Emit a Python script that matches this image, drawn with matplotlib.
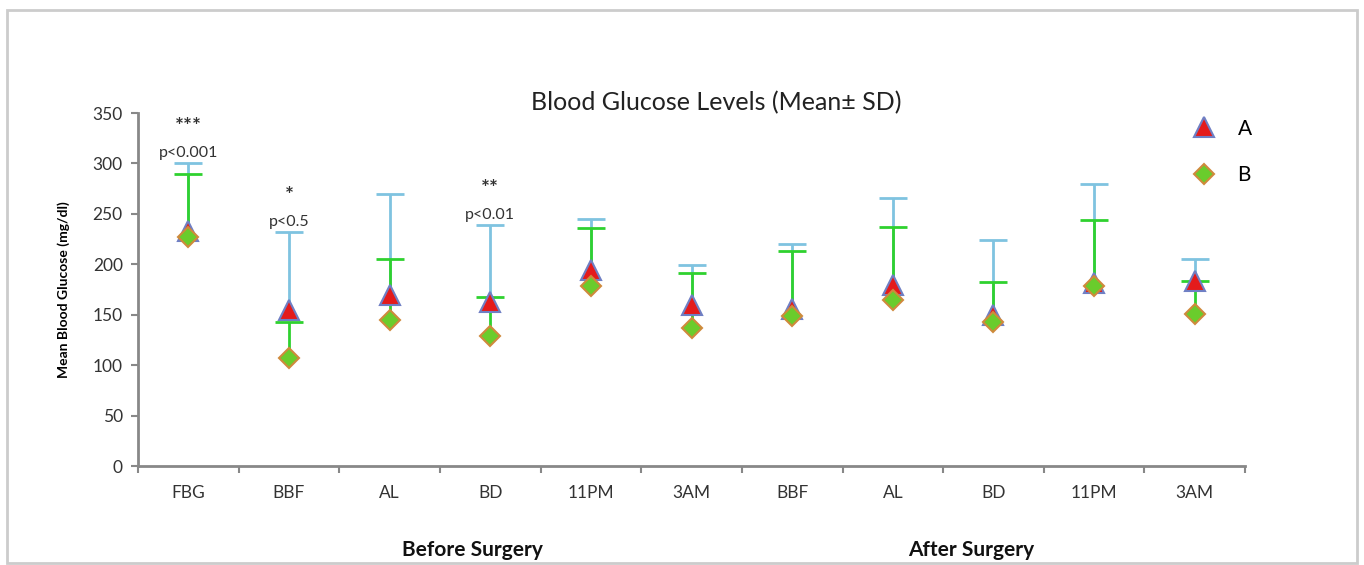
import numpy as np
import matplotlib
matplotlib.use("Agg")
import matplotlib.pyplot as plt
from matplotlib.patches import Rectangle

# valores (mg/dl)
categorias = ["FBG", "BBF", "AL", "BD", "11PM", "3AM", "BBF", "AL", "BD", "11PM", "3AM"]
media_a = [233, 155, 170, 163, 194, 160, 156, 179, 150, 181, 183]
sd_a = [67, 77, 100, 76, 51, 39, 64, 87, 74, 99, 22]
media_b = [227, 107, 145, 129, 178, 137, 149, 165, 143, 178, 151]
sd_b = [63, 36, 60, 39, 58, 54, 64, 72, 39, 66, 32]

anotaciones = [(0, "***", "p<0.001"), (1, "*", "p<0.5"), (3, "**", "p<0.01")]
grupos = ["Before Surgery", "After Surgery"]

plt.rcParams["font.family"] = ["Lato", "DejaVu Sans"]

fig = plt.figure(figsize=(13.64, 5.65), dpi=100)
fig.patch.set_facecolor("white")
ax = fig.add_axes([0.1012, 0.1752, 0.8116, 0.6248])

x = np.arange(len(categorias))
tope_a = np.array(media_a) + np.array(sd_a)
tope_b = np.array(media_b) + np.array(sd_b)

# barras de error solo hacia arriba (media -> media + SD)
ax.vlines(x, media_a, tope_a, colors="#7fc3e0", lw=2, zorder=2)
ax.plot(x, tope_a, ls="none", marker="_", ms=20, mew=2, color="#7fc3e0", zorder=2)
ax.vlines(x, media_b, tope_b, colors="#2fd12f", lw=2, zorder=3)
ax.plot(x, tope_b, ls="none", marker="_", ms=20, mew=2, color="#2fd12f", zorder=3)

ax.plot(x, media_a, ls="none", marker="^", ms=14, mfc="#e41b1b",
        mec="#6f7fc4", mew=1.5, label="A", zorder=4)
ax.plot(x, media_b, ls="none", marker="D", ms=10, mfc="#6acc2c",
        mec="#cf8a3c", mew=1.5, label="B", zorder=5)

ax.set_xlim(-0.5, len(x) - 0.5)
ax.set_ylim(0, 350)
ax.set_yticks(range(0, 351, 50))
ax.set_xticks(x)
ax.set_xticklabels(categorias)
ax.set_xticks(np.arange(-0.5, len(x), 1), minor=True)
ax.tick_params(axis="x", which="major", length=0, pad=14, labelsize=12.5, colors="#333333")
ax.tick_params(axis="x", which="minor", length=5, width=1.5, color="#888888")
ax.tick_params(axis="y", length=5, width=1.5, color="#888888", labelsize=12.5,
               labelcolor="#333333", pad=6)
for lado in ["top", "right"]:
    ax.spines[lado].set_visible(False)
for lado in ["left", "bottom"]:
    ax.spines[lado].set_color("#888888")
    ax.spines[lado].set_linewidth(2)

ax.set_ylabel("Mean Blood Glucose (mg/dl)", fontsize=10, fontweight="bold", labelpad=16)

for i, estrellas, p in anotaciones:
    tope = max(tope_a[i], tope_b[i])
    ax.text(i, tope + 36, estrellas, ha="center", va="center", fontsize=15,
            fontweight="bold", color="#333333")
    ax.text(i, tope + 10, p, ha="center", va="center", fontsize=11.5, color="#333333")

fig.text(0.525, 0.818, "Blood Glucose Levels (Mean± SD)", ha="center", va="center",
         fontsize=18, color="#222222")
fig.text(472 / 1364, 1 - 550 / 565, grupos[0], ha="center", va="center",
         fontsize=15, fontweight="bold", color="#111111")
fig.text(971 / 1364, 1 - 550 / 565, grupos[1], ha="center", va="center",
         fontsize=15, fontweight="bold", color="#111111")

fig.legend(loc="upper left", bbox_to_anchor=(1173 / 1364, 1 - 100 / 565),
           frameon=False, fontsize=15, labelspacing=1.25, handletextpad=1.0,
           handlelength=1.2)

fig.patches.append(Rectangle((7 / 1364, 2 / 565), 1350 / 1364, 553 / 565,
                             transform=fig.transFigure, fill=False,
                             edgecolor="#cccccc", linewidth=2))

fig.savefig("out.png", dpi=100)
